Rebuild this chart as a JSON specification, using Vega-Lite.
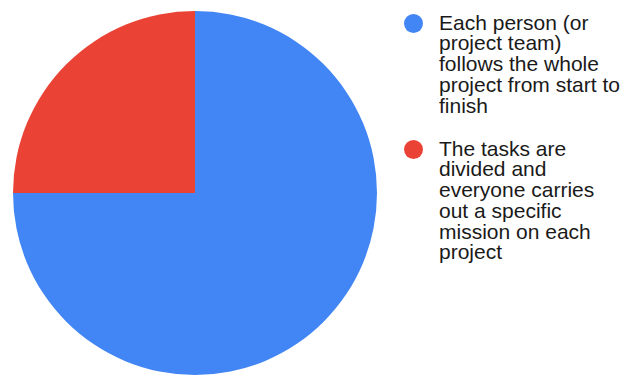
{
  "$schema": "https://vega.github.io/schema/vega-lite/v6.json",
  "width": 390,
  "height": 386,
  "autosize": {"type": "pad"},
  "padding": 0,
  "background": "white",
  "view": {"stroke": null},
  "config": {"style": {"guide-label": {"dy": -11, "lineHeight": 20.75}}},
  "data": {"values": [
    {"label": "Each person (or|project team)|follows the whole|project from start to|finish", "value": 75, "order": 1},
    {"label": "The tasks are|divided and|everyone carries|out a specific|mission on each|project", "value": 25, "order": 2}
  ]},
  "mark": {"type": "arc", "outerRadius": 182},
  "encoding": {
    "theta": {"field": "value", "type": "quantitative", "stack": true},
    "order": {"field": "order"},
    "color": {
      "field": "label", "type": "nominal",
      "scale": {"range": ["#4285F4", "#EA4335"]},
      "sort": null,
      "legend": {
        "title": null,
        "orient": "none",
        "legendX": 403,
        "legendY": 13,
        "symbolType": "circle",
        "symbolSize": 360,
        "symbolStrokeWidth": 0,
        "labelFont": "Liberation Sans",
        "labelFontSize": 21,
        "labelColor": "#1a1a1a",
        "labelLimit": 300,
        "labelOffset": 15,
        "labelBaseline": "top",
        "rowPadding": 21,
        "labelExpr": "split(datum.label, '|')"
      }
    }
  }
}
